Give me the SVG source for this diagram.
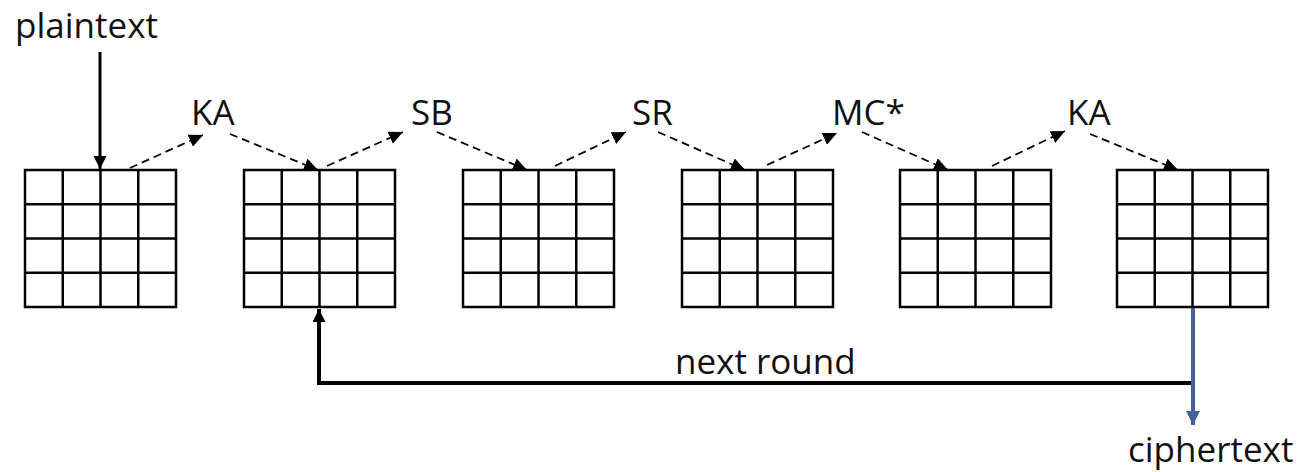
<svg xmlns="http://www.w3.org/2000/svg" xmlns:xlink="http://www.w3.org/1999/xlink" width="1303" height="472" viewBox="0 0 1303 472">
  <style>
    .label { font-family: "Open Sans", "Liberation Sans", sans-serif; font-size: 35px; fill: #111; }
    .cell { fill: #fff; stroke: #000; stroke-width: 2.5; }
    .gl { stroke: #000; stroke-width: 2.5; }
    .step { fill: none; stroke: #000; stroke-width: 1.8; stroke-dasharray: 8 5; }
    .flow { fill: none; stroke: #000; stroke-width: 3; }
    .loop { fill: none; stroke: #000; stroke-width: 4; }
    .out { fill: none; stroke: #45609a; stroke-width: 4; }
  </style>
  <defs>
    <marker id="head-dash" markerUnits="userSpaceOnUse" markerWidth="15" markerHeight="13" refX="14" refY="6.5" orient="auto">
      <path d="M0,0 L14,6.5 L0,13 z" fill="#000"/>
    </marker>
    <marker id="head-solid" markerUnits="userSpaceOnUse" markerWidth="14" markerHeight="14" refX="13" refY="6.5" orient="auto">
      <path d="M0,0 L13,6.5 L0,13 z" fill="#000"/>
    </marker>
    <marker id="head-blue" markerUnits="userSpaceOnUse" markerWidth="15" markerHeight="15" refX="14" refY="7" orient="auto">
      <path d="M0,0 L14,7 L0,14 z" fill="#45609a"/>
    </marker>
    <!-- 4x4 state matrix -->
    <g id="state">
      <rect class="cell" x="0" y="0" width="151" height="137"/>
      <path class="gl" d="M37.75,0 V137 M75.5,0 V137 M113.25,0 V137 M0,34.25 H151 M0,68.5 H151 M0,102.75 H151"/>
    </g>
  </defs>

  <g id="state0"><use xlink:href="#state" href="#state" x="25" y="170"/></g>
  <g id="state1"><use xlink:href="#state" href="#state" x="244" y="170"/></g>
  <g id="state2"><use xlink:href="#state" href="#state" x="463" y="170"/></g>
  <g id="state3"><use xlink:href="#state" href="#state" x="682" y="170"/></g>
  <g id="state4"><use xlink:href="#state" href="#state" x="900" y="170"/></g>
  <g id="state5"><use xlink:href="#state" href="#state" x="1117" y="170"/></g>

  <g id="labels">
    <text class="label" x="15" y="38">plaintext</text>
    <text class="label" x="191" y="125">KA</text>
    <text class="label" x="411" y="125">SB</text>
    <text class="label" x="632" y="125">SR</text>
    <text class="label" x="832" y="125">MC*</text>
    <text class="label" x="1067" y="125">KA</text>
    <text class="label" x="675" y="374">next round</text>
    <text class="label" x="1128" y="462">ciphertext</text>
  </g>

  <g id="connectors">
    <path class="flow" d="M100,52 V169" marker-end="url(#head-solid)"/>

    <path class="step" d="M130,168 L203,135" marker-end="url(#head-dash)"/>
    <path class="step" d="M230,134 L318,170" marker-end="url(#head-dash)"/>
    <path class="step" d="M327,166 L403,132" marker-end="url(#head-dash)"/>
    <path class="step" d="M437,132 L527,170" marker-end="url(#head-dash)"/>
    <path class="step" d="M555,166 L626,132" marker-end="url(#head-dash)"/>
    <path class="step" d="M658,132 L745,170" marker-end="url(#head-dash)"/>
    <path class="step" d="M767,165 L837,133" marker-end="url(#head-dash)"/>
    <path class="step" d="M862,132 L948,170" marker-end="url(#head-dash)"/>
    <path class="step" d="M992,166 L1065,131" marker-end="url(#head-dash)"/>
    <path class="step" d="M1090,134 L1178,170" marker-end="url(#head-dash)"/>

    <path class="loop" d="M1193,383 H319 V309" marker-end="url(#head-solid)"/>
    <path class="out" d="M1193,308 V425" marker-end="url(#head-blue)"/>
  </g>
</svg>
